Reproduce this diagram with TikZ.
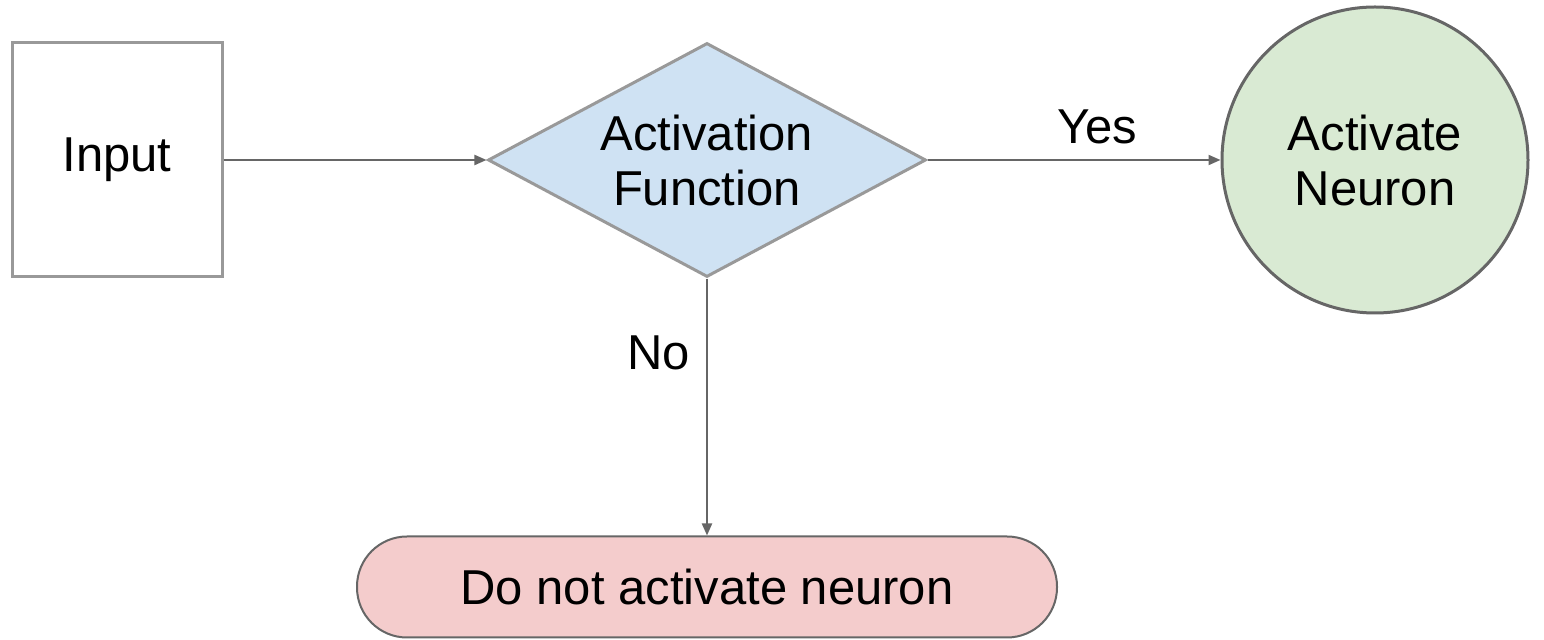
\documentclass[tikz,border=0pt]{standalone}
\usepackage{fontspec}
\setmainfont{Liberation Sans}
\usetikzlibrary{shapes.geometric,arrows.meta}
\definecolor{blueish}{HTML}{CFE2F3}
\definecolor{greenish}{HTML}{D9EAD3}
\definecolor{reddish}{HTML}{F4CCCC}
\definecolor{lightline}{HTML}{999999}
\definecolor{darkline}{HTML}{666666}
\begin{document}
\begin{tikzpicture}[x=0.5pt,y=-0.5pt,
  txt/.style={font=\fontsize{24.5}{27.5}\selectfont,align=center,inner sep=0},
  inputbox/.style={txt,draw=lightline,line width=1.5pt,fill=white,minimum width=105pt,minimum height=117pt},
  decision/.style={txt,diamond,shape aspect=1.87,draw=lightline,line width=1.5pt,fill=blueish,minimum width=219pt,minimum height=117pt},
  yesnode/.style={txt,circle,draw=darkline,line width=1.5pt,fill=greenish,minimum size=153pt},
  nonode/.style={txt,draw=darkline,line width=1pt,fill=reddish,rounded corners=25pt,minimum width=350pt,minimum height=50.5pt},
  flow/.style={draw=darkline,line width=1pt,-{Triangle[length=6pt,width=5pt]}}]
\useasboundingbox (0,0) rectangle (1544,640);
\node[inputbox] (input) at (117,160) {Input};
\node[decision] (act) at (707,160) {Activation\\Function};
\node[yesnode] (fire) at (1375,160) {Activate\\Neuron};
\node[nonode] (nofire) at (707,587) {Do not activate neuron};
\draw[flow] (input) -- (act);
\draw[flow] (act) -- node[txt,pos=0.58,above=7.5pt] (yes) {Yes} (fire);
\draw[flow] (act) -- node[txt,pos=0.29,left=8pt] (no) {No} (nofire);
\end{tikzpicture}
\end{document}
